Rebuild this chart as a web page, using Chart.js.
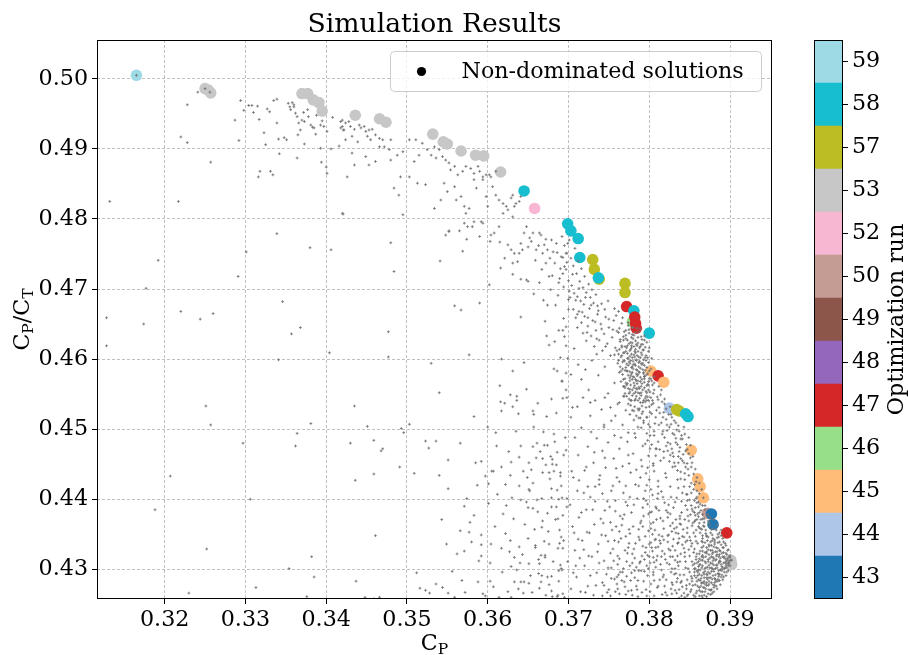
<!DOCTYPE html>
<html>
<head>
<meta charset="utf-8">
<script src="https://cdn.jsdelivr.net/npm/chart.js@4.4.1/dist/chart.umd.min.js"></script>
<style>
html, body { margin: 0; padding: 0; background: #fff; }
#wrap { position: relative; width: 908px; height: 655px; }
#chartSim { position: absolute; left: 0; top: 0; }
#chartRun { position: absolute; left: 800px; top: 0; }
</style>
</head>
<body>
<div id="wrap">
	<canvas id="chartSim" width="908" height="655"></canvas>
	<canvas id="chartRun" width="108" height="655"></canvas>
</div>
<script>
var FONT = '"DejaVu Serif", "Liberation Serif", serif';
var FONT_SIZE = 22.2;

var xTicks = [0.32, 0.33, 0.34, 0.35, 0.36, 0.37, 0.38, 0.39];
var yTicks = [0.43, 0.44, 0.45, 0.46, 0.47, 0.48, 0.49, 0.50];

// optimization runs, bottom to top of the colour bar
var runLabels = [43, 44, 45, 46, 47, 48, 49, 50, 52, 53, 57, 58, 59];
var runColors = ['#1f77b4', '#aec7e8', '#ffbb78', '#98df8a', '#d62728', '#9467bd', '#8c564b',
	'#c49c94', '#f7b6d2', '#c7c7c7', '#bcbd22', '#17becf', '#9edae5'];

// non-dominated solutions
var frontCp = [0.3165, 0.3250, 0.3254, 0.3257, 0.3370, 0.3377, 0.3384, 0.3391, 0.3395, 0.3436,
	0.3466, 0.3474, 0.3532, 0.3545, 0.3550, 0.3567, 0.3585, 0.3595, 0.3616, 0.3645,
	0.3658, 0.3699, 0.3703, 0.3712, 0.3714, 0.3730, 0.3732, 0.3738, 0.3737, 0.3770,
	0.3770, 0.3772, 0.3779, 0.3781, 0.3782, 0.3783, 0.3784, 0.3800, 0.3802, 0.3811,
	0.3818, 0.3825, 0.3834, 0.3837, 0.3845, 0.3848, 0.3852, 0.3860, 0.3863, 0.3867,
	0.3872, 0.3877, 0.3879, 0.3896, 0.3901, 0.3902];
var frontRatio = [0.5005, 0.4986, 0.4984, 0.4980, 0.4979, 0.4979, 0.4970, 0.4966, 0.4954, 0.4948,
	0.4943, 0.4938, 0.4921, 0.4910, 0.4907, 0.4897, 0.4891, 0.4890, 0.4867, 0.4840,
	0.4815, 0.4793, 0.4783, 0.4772, 0.4745, 0.4742, 0.4728, 0.4714, 0.4716, 0.4708,
	0.4695, 0.4675, 0.4653, 0.4669, 0.4660, 0.4651, 0.4644, 0.4637, 0.4583, 0.4576,
	0.4567, 0.4530, 0.4528, 0.4526, 0.4522, 0.4518, 0.4470, 0.4429, 0.4418, 0.4402,
	0.4380, 0.4379, 0.4364, 0.4352, 0.4313, 0.4307];
var frontRun = [59, 53, 53, 53, 53, 53, 53, 53, 53, 53,
	53, 53, 53, 53, 53, 53, 53, 53, 53, 58,
	52, 58, 58, 58, 58, 57, 57, 57, 58, 57,
	57, 47, 46, 58, 47, 47, 47, 58, 45, 47,
	45, 44, 57, 57, 58, 58, 45, 45, 45, 45,
	50, 43, 43, 47, 53, 53];

// all simulations [Cp, Cp/Ct], read region by region
var cloudLeft = [
	[0.3192,0.4741],[0.3177,0.4701],[0.3128,0.4659],[0.3174,0.4650],[0.3128,0.4619],[0.3220,0.4668],[0.3244,0.4657],
	[0.3260,0.4665],[0.3291,0.4718],[0.3301,0.4753],[0.3339,0.4779],[0.3380,0.4759],[0.3406,0.4756],[0.3346,0.4682],
	[0.3357,0.4636],[0.3368,0.4645],[0.3404,0.4609],[0.3341,0.4599],[0.3251,0.4533],[0.3257,0.4506],[0.3381,0.4508],
	[0.3364,0.4494],[0.3362,0.4476],[0.3297,0.4480],[0.3207,0.4433],[0.3188,0.4385],[0.3306,0.4400],[0.3252,0.4329],
	[0.3382,0.4318],[0.3354,0.4301],[0.3385,0.4289],[0.3313,0.4274],[0.3230,0.4266],[0.3376,0.4261]
];
var cloudTopLeft = [
	[0.3228,0.4963],[0.3241,0.4981],[0.3220,0.4917],[0.3228,0.4909],[0.3257,0.4881],[0.3132,0.4825],[0.3217,0.4825],
	[0.3294,0.4969],[0.3287,0.4941],[0.3292,0.4912],[0.3298,0.4955],[0.3304,0.4962],[0.3308,0.4962],[0.3315,0.4961],
	[0.3317,0.4942],[0.3310,0.4952],[0.3323,0.4923],[0.3325,0.4906],[0.3327,0.4957],[0.3330,0.4953],[0.3335,0.4969],
	[0.3339,0.4971],[0.3339,0.4937],[0.3341,0.4914],[0.3342,0.4893],[0.3348,0.4916],[0.3351,0.4913],[0.3353,0.4965],
	[0.3355,0.4960],[0.3356,0.4956],[0.3358,0.4966],[0.3360,0.4963],[0.3362,0.4951],[0.3364,0.4946],[0.3366,0.4937],
	[0.3368,0.4927],[0.3365,0.4920],[0.3373,0.4907],[0.3364,0.4887],[0.3377,0.4956],[0.3370,0.4941],[0.3373,0.4939],
	[0.3381,0.4934],[0.3385,0.4930],[0.3387,0.4921],[0.3393,0.4934],[0.3397,0.4932],[0.3401,0.4925],[0.3393,0.4901],
	[0.3406,0.4900],[0.3408,0.4945],[0.3416,0.4904],[0.3418,0.4939],[0.3420,0.4932],[0.3421,0.4927],[0.3394,0.4881],
	[0.3400,0.4874],[0.3401,0.4865],[0.3316,0.4860],[0.3318,0.4868],[0.3331,0.4868],[0.3334,0.4863],[0.3421,0.4807],
	[0.3360,0.4960],[0.3372,0.4952],[0.3378,0.4946],[0.3388,0.4948],[0.3395,0.4940],[0.3383,0.4931],[0.3165,0.5005],
	[0.3250,0.4986],[0.3256,0.4981]
];
var cloudUpper = [
	[0.3420,0.4941],[0.3424,0.4937],[0.3428,0.4939],[0.3430,0.4932],[0.3418,0.4930],[0.3422,0.4927],[0.3435,0.4928],
	[0.3441,0.4934],[0.3443,0.4930],[0.3447,0.4932],[0.3449,0.4925],[0.3453,0.4927],[0.3457,0.4928],[0.3451,0.4918],
	[0.3455,0.4913],[0.3461,0.4920],[0.3466,0.4915],[0.3470,0.4913],[0.3432,0.4918],[0.3424,0.4913],[0.3439,0.4910],
	[0.3466,0.4903],[0.3472,0.4903],[0.3480,0.4913],[0.3478,0.4899],[0.3432,0.4894],[0.3449,0.4889],[0.3461,0.4882],
	[0.3480,0.4884],[0.3488,0.4891],[0.3495,0.4896],[0.3426,0.4860],[0.3435,0.4877],[0.3453,0.4877],[0.3420,0.4808],
	[0.3492,0.4860],[0.3490,0.4834],[0.3495,0.4806],[0.3484,0.4844],
	[0.3503,0.4913],[0.3511,0.4913],[0.3519,0.4908],[0.3525,0.4899],[0.3530,0.4891],[0.3534,0.4903],[0.3540,0.4899],
	[0.3536,0.4887],[0.3544,0.4889],[0.3548,0.4884],[0.3552,0.4880],[0.3554,0.4870],[0.3559,0.4875],[0.3563,0.4863],
	[0.3569,0.4868],[0.3573,0.4875],[0.3579,0.4872],[0.3583,0.4865],[0.3588,0.4875],[0.3590,0.4868],[0.3594,0.4860],
	[0.3598,0.4863],[0.3509,0.4882],[0.3515,0.4891],[0.3503,0.4860],[0.3513,0.4851],[0.3523,0.4849],[0.3534,0.4815],
	[0.3542,0.4827],[0.3546,0.4851],[0.3550,0.4839],[0.3559,0.4846],[0.3561,0.4827],[0.3567,0.4832],[0.3571,0.4818],
	[0.3573,0.4808],[0.3577,0.4815],[0.3583,0.4856],[0.3586,0.4844],[0.3592,0.4796],[0.3594,0.4794],[0.3581,0.4789],
	[0.3552,0.4782],[0.3571,0.4794],[0.3598,0.4832],[0.3600,0.4818],[0.3604,0.4860],[0.3606,0.4846],[0.3610,0.4834],
	[0.3614,0.4827],[0.3619,0.4822],[0.3623,0.4818],[0.3625,0.4813],[0.3629,0.4830],[0.3631,0.4834],[0.3633,0.4818],
	[0.3635,0.4822],[0.3639,0.4825],[0.3641,0.4832],[0.3619,0.4808],[0.3614,0.4789],[0.3631,0.4803],[0.3648,0.4789],
	[0.3656,0.4780],[0.3664,0.4780],[0.3608,0.4780],[0.3594,0.4856],[0.3602,0.4863],[0.3610,0.4868]
];
var cloudMiddle = [
	[0.3480,0.4766],[0.3484,0.4725],[0.3477,0.4639],[0.3477,0.4603],[0.3435,0.4533],[0.3541,0.4740],[0.3559,0.4676],
	[0.3567,0.4670],[0.3590,0.4680],[0.3577,0.4606],[0.3530,0.4594],[0.3540,0.4552],[0.3583,0.4518],[0.3569,0.4754],
	[0.3548,0.4777],[0.3552,0.4783],[0.3565,0.4783],[0.3574,0.4771],[0.3575,0.4789],[0.3583,0.4796],[0.3590,0.4775],
	[0.3602,0.4706],[0.3604,0.4777],[0.3603,0.4768],[0.3615,0.4767],[0.3616,0.4730],[0.3621,0.4744],[0.3625,0.4763],
	[0.3629,0.4756],[0.3631,0.4737],[0.3633,0.4751],[0.3637,0.4739],[0.3639,0.4751],[0.3641,0.4765],[0.3643,0.4756],
	[0.3645,0.4780],[0.3631,0.4721],[0.3641,0.4714],[0.3648,0.4713],[0.3641,0.4660],[0.3650,0.4760],[0.3654,0.4768],
	[0.3660,0.4756],[0.3666,0.4777],[0.3668,0.4751],[0.3670,0.4763],[0.3672,0.4737],[0.3674,0.4756],[0.3676,0.4718],
	[0.3679,0.4770],[0.3681,0.4753],[0.3683,0.4737],[0.3685,0.4765],[0.3687,0.4691],[0.3689,0.4715],[0.3691,0.4746],
	[0.3693,0.4722],[0.3695,0.4732],[0.3697,0.4751],[0.3699,0.4765],[0.3674,0.4677],[0.3684,0.4677],[0.3671,0.4654],
	[0.3673,0.4633],[0.3676,0.4620],[0.3683,0.4625],[0.3693,0.4641],[0.3697,0.4646],[0.3697,0.4619],[0.3617,0.4600],
	[0.3645,0.4595],[0.3631,0.4583],[0.3682,0.4586],[0.3697,0.4580],[0.3692,0.4569],[0.3615,0.4562],[0.3628,0.4549],
	[0.3636,0.4547],[0.3636,0.4541],[0.3648,0.4557],[0.3616,0.4539],[0.3621,0.4537],[0.3631,0.4532],[0.3617,0.4526],
	[0.3638,0.4522],[0.3656,0.4526],[0.3657,0.4521],[0.3693,0.4544],[0.3697,0.4556],
	[0.3652,0.4773],[0.3659,0.4741],[0.3663,0.4762],[0.3667,0.4728],[0.3672,0.4771],[0.3677,0.4744],[0.3680,0.4719],
	[0.3686,0.4752],[0.3690,0.4729],[0.3694,0.4703],[0.3698,0.4738],[0.3701,0.4697],[0.3705,0.4721],[0.3709,0.4684],
	[0.3713,0.4701],[0.3717,0.4667],[0.3721,0.4688],[0.3724,0.4659],[0.3728,0.4677],[0.3733,0.4653],[0.3737,0.4669],
	[0.3741,0.4643],[0.3745,0.4671],[0.3750,0.4657],[0.3755,0.4642],[0.3759,0.4662],[0.3763,0.4644],[0.3767,0.4659],
	[0.3650,0.4711],[0.3657,0.4693],[0.3664,0.4709],[0.3669,0.4684],[0.3678,0.4699],[0.3688,0.4709],[0.3700,0.4685],
	[0.3711,0.4664],[0.3723,0.4638],[0.3735,0.4629],[0.3746,0.4618],[0.3757,0.4606]
];
var cloudLower = [
	[0.3451,0.4504],[0.3430,0.4480],[0.3459,0.4484],[0.3470,0.4472],[0.3468,0.4469],[0.3459,0.4436],[0.3436,0.4427],
	[0.3491,0.4446],[0.3493,0.4501],[0.3496,0.4495],[0.3503,0.4507],[0.3461,0.4348],[0.3437,0.4283],[0.3448,0.4260],
	[0.3459,0.4258],[0.3466,0.4260],[0.3523,0.4483],[0.3527,0.4473],[0.3536,0.4483],[0.3509,0.4437],[0.3540,0.4434],
	[0.3551,0.4456],[0.3551,0.4415],[0.3566,0.4480],[0.3585,0.4452],[0.3592,0.4454],[0.3587,0.4420],[0.3571,0.4390],
	[0.3543,0.4371],[0.3549,0.4336],[0.3566,0.4355],[0.3577,0.4353],[0.3578,0.4367],[0.3580,0.4339],[0.3592,0.4349],
	[0.3592,0.4335],[0.3592,0.4319],[0.3512,0.4295],[0.3516,0.4273],[0.3523,0.4270],[0.3528,0.4266],[0.3536,0.4279],
	[0.3544,0.4274],[0.3551,0.4266],[0.3559,0.4260],[0.3572,0.4267],[0.3588,0.4282],[0.3594,0.4265],[0.3600,0.4503],
	[0.3610,0.4495],[0.3611,0.4476],[0.3605,0.4440],[0.3607,0.4440],[0.3601,0.4422],[0.3617,0.4446],[0.3629,0.4453],
	[0.3628,0.4434],[0.3639,0.4460],[0.3639,0.4419],[0.3630,0.4402],[0.3644,0.4440],[0.3651,0.4452],[0.3651,0.4414],
	[0.3652,0.4412],[0.3654,0.4442],[0.3656,0.4475],[0.3656,0.4423],[0.3661,0.4480],[0.3665,0.4468],[0.3670,0.4477],
	[0.3674,0.4477],[0.3668,0.4458],[0.3668,0.4438],[0.3672,0.4449],[0.3678,0.4461],[0.3680,0.4457],[0.3680,0.4450],
	[0.3682,0.4440],[0.3676,0.4438],[0.3685,0.4449],[0.3683,0.4482],[0.3682,0.4493],[0.3694,0.4463],[0.3697,0.4470],
	[0.3690,0.4438],[0.3690,0.4433],[0.3679,0.4415],[0.3686,0.4413],[0.3679,0.4402],[0.3688,0.4400],[0.3692,0.4402],
	[0.3698,0.4401],[0.3623,0.4391],[0.3619,0.4379],[0.3641,0.4399],[0.3648,0.4396],[0.3650,0.4388],[0.3656,0.4387],
	[0.3661,0.4399],[0.3662,0.4382],[0.3668,0.4369],[0.3667,0.4360],[0.3674,0.4380],[0.3679,0.4389],[0.3685,0.4389],
	[0.3687,0.4372],[0.3689,0.4356],[0.3691,0.4346],[0.3693,0.4377],[0.3698,0.4389],[0.3689,0.4337],[0.3693,0.4330],
	[0.3617,0.4330],[0.3604,0.4336],[0.3603,0.4309],[0.3628,0.4341],[0.3627,0.4325],[0.3633,0.4317],[0.3629,0.4304],
	[0.3639,0.4332],[0.3643,0.4321],[0.3650,0.4344],[0.3651,0.4308],[0.3659,0.4334],[0.3659,0.4331],[0.3663,0.4314],
	[0.3664,0.4308],[0.3666,0.4320],[0.3671,0.4320],[0.3671,0.4317],[0.3670,0.4340],[0.3676,0.4336],[0.3687,0.4330],
	[0.3690,0.4306],[0.3691,0.4301],[0.3663,0.4294],[0.3667,0.4291],[0.3674,0.4289],[0.3679,0.4290],[0.3688,0.4298],
	[0.3692,0.4299],[0.3633,0.4282],[0.3641,0.4282],[0.3645,0.4282],[0.3651,0.4280],[0.3638,0.4272],[0.3644,0.4266],
	[0.3666,0.4282],[0.3676,0.4278],[0.3679,0.4269],[0.3680,0.4261],[0.3686,0.4261],[0.3614,0.4260],[0.3629,0.4260],
	[0.3693,0.4265],[0.3695,0.4260],
	[0.3556,0.4297],[0.3562,0.4322],[0.3568,0.4284],[0.3574,0.4401],[0.3583,0.4377],[0.3589,0.4312],[0.3597,0.4433],
	[0.3603,0.4283],[0.3609,0.4361],[0.3612,0.4407],[0.3618,0.4296],[0.3622,0.4351],[0.3626,0.4468],[0.3632,0.4372],
	[0.3635,0.4497],[0.3640,0.4309],[0.3646,0.4364],[0.3649,0.4431],[0.3653,0.4291],[0.3658,0.4357],[0.3660,0.4459],
	[0.3664,0.4273],[0.3667,0.4401],[0.3669,0.4496],[0.3672,0.4263],[0.3675,0.4354],[0.3677,0.4429],[0.3681,0.4311],
	[0.3684,0.4371],[0.3686,0.4467],[0.3688,0.4283],[0.3691,0.4419],[0.3694,0.4341],[0.3696,0.4488],[0.3699,0.4311],
	[0.3657,0.4503],[0.3662,0.4537],[0.3673,0.4518],[0.3679,0.4543],[0.3685,0.4523],[0.3597,0.4262],[0.3607,0.4275],
	[0.3625,0.4268],[0.3636,0.4299],[0.3655,0.4267],[0.3687,0.4263],[0.3622,0.4421],[0.3641,0.4476],[0.3601,0.4394],
	[0.3571,0.4326]
];
var cloudFront = [
	[0.3692,0.4775],[0.3695,0.4762],[0.3698,0.4751],[0.3701,0.4770],[0.3703,0.4744],[0.3706,0.4733],[0.3708,0.4758],
	[0.3710,0.4722],[0.3712,0.4740],[0.3714,0.4711],[0.3716,0.4729],[0.3718,0.4702],[0.3720,0.4718],[0.3722,0.4695],
	[0.3725,0.4707],[0.3727,0.4688],[0.3729,0.4699],[0.3731,0.4680],[0.3734,0.4692],[0.3736,0.4676],[0.3693,0.4745],
	[0.3697,0.4728],[0.3700,0.4712],[0.3704,0.4705],[0.3707,0.4694],[0.3711,0.4689],[0.3715,0.4683],[0.3719,0.4678],
	[0.3702,0.4688],[0.3706,0.4671],[0.3709,0.4659],[0.3711,0.4645],[0.3713,0.4668],[0.3716,0.4652],[0.3718,0.4637],
	[0.3720,0.4661],[0.3722,0.4626],[0.3724,0.4647],[0.3726,0.4672],[0.3728,0.4633],[0.3730,0.4655],[0.3732,0.4618],
	[0.3734,0.4641],[0.3736,0.4664],[0.3738,0.4627],[0.3740,0.4650],[0.3742,0.4612],[0.3744,0.4636],[0.3746,0.4660],
	[0.3748,0.4622],[0.3750,0.4645],[0.3752,0.4605],[0.3754,0.4631],[0.3756,0.4655],[0.3758,0.4616],[0.3760,0.4640],
	[0.3762,0.4668],[0.3764,0.4625],[0.3766,0.4651],[0.3768,0.4609],[0.3741,0.4679],[0.3749,0.4683],[0.3757,0.4672],
	[0.3712,0.4592],[0.3716,0.4571],[0.3721,0.4585],[0.3725,0.4556],[0.3729,0.4598],[0.3733,0.4541],[0.3737,0.4577],
	[0.3741,0.4528],[0.3745,0.4589],[0.3749,0.4551],[0.3753,0.4512],[0.3757,0.4566],[0.3761,0.4536],[0.3765,0.4583],
	[0.3769,0.4547],[0.3744,0.4503],[0.3727,0.4519],[0.3762,0.4598],[0.3718,0.4545],[0.3735,0.4607],
	[0.3695,0.4632],[0.3699,0.4601],[0.3703,0.4578],[0.3707,0.4615],[0.3692,0.4568],[0.3698,0.4545],[0.3705,0.4531],
	[0.3690,0.4602],[0.3688,0.4641],[0.3694,0.4658],[0.3700,0.4671],[0.3686,0.4583]
];
var cloudKnee = [
	[0.3762,0.4638],[0.3768,0.4627],[0.3771,0.4641],[0.3775,0.4622],[0.3779,0.4635],[0.3783,0.4626],[0.3787,0.4639],
	[0.3790,0.4621],[0.3794,0.4633],[0.3797,0.4624],[0.3760,0.4612],[0.3765,0.4603],[0.3770,0.4618],[0.3774,0.4601],
	[0.3777,0.4614],[0.3781,0.4606],[0.3785,0.4619],[0.3789,0.4602],[0.3792,0.4613],[0.3796,0.4605],[0.3800,0.4616],
	[0.3764,0.4589],[0.3769,0.4597],[0.3773,0.4583],[0.3776,0.4594],[0.3780,0.4586],[0.3784,0.4598],[0.3788,0.4581],
	[0.3791,0.4592],[0.3795,0.4584],[0.3799,0.4595],[0.3768,0.4571],[0.3772,0.4563],[0.3777,0.4576],[0.3781,0.4566],
	[0.3786,0.4578],[0.3790,0.4561],[0.3794,0.4572],[0.3798,0.4564],[0.3770,0.4551],[0.3775,0.4543],[0.3779,0.4556],
	[0.3784,0.4547],[0.3788,0.4558],[0.3793,0.4541],[0.3797,0.4552],[0.3778,0.4631],[0.3786,0.4611],[0.3782,0.4593],
	[0.3773,0.4608],[0.3791,0.4628],[0.3779,0.4571],[0.3787,0.4589],[0.3793,0.4599],[0.3776,0.4582],[0.3783,0.4614],
	[0.3771,0.4629],[0.3789,0.4568],[0.3796,0.4577],[0.3785,0.4557],[0.3766,0.4619],[0.3774,0.4648],[0.3780,0.4645],
	[0.3777,0.4598],[0.3792,0.4585],
	[0.3771,0.4634],[0.3776,0.4612],[0.3782,0.4603],[0.3779,0.4589],[0.3774,0.4577],[0.3787,0.4595],[0.3790,0.4609],
	[0.3784,0.4621],[0.3769,0.4598],[0.3793,0.4581],[0.3781,0.4574],[0.3777,0.4563],[0.3786,0.4569],[0.3792,0.4556],
	[0.3775,0.4551],[0.3783,0.4543],[0.3789,0.4538],[0.3796,0.4547],[0.3767,0.4586],[0.3773,0.4619],[0.3778,0.4607],
	[0.3785,0.4584],[0.3791,0.4571],[0.3797,0.4562],[0.3801,0.4553],[0.3780,0.4629],[0.3788,0.4616],[0.3795,0.4602],
	[0.3772,0.4593],[0.3766,0.4605],[0.3783,0.4591],[0.3779,0.4581],[0.3776,0.4569],[0.3784,0.4558],[0.3790,0.4548],
	[0.3794,0.4591],[0.3798,0.4579],[0.3770,0.4572],[0.3763,0.4581],[0.3768,0.4561],[0.3777,0.4541],[0.3782,0.4532],
	[0.3787,0.4527],[0.3781,0.4618],[0.3775,0.4637],[0.3786,0.4631],[0.3792,0.4621],[0.3799,0.4611],[0.3803,0.4601],
	[0.3789,0.4643],[0.3774,0.4652],[0.3779,0.4645],[0.3783,0.4638],[0.3771,0.4611],[0.3764,0.4628],[0.3761,0.4594],
	[0.3773,0.4601],[0.3780,0.4597],[0.3787,0.4603],[0.3793,0.4613],[0.3778,0.4588],[0.3785,0.4576],[0.3791,0.4565],
	[0.3796,0.4554],[0.3772,0.4583],[0.3776,0.4557],[0.3782,0.4562],[0.3788,0.4551],[0.3795,0.4539],[0.3800,0.4532],
	[0.3768,0.4547],[0.3774,0.4536],[0.3779,0.4527],[0.3784,0.4519],[0.3792,0.4525],[0.3797,0.4517],[0.3777,0.4624],
	[0.3783,0.4609],[0.3789,0.4587],[0.3794,0.4575],[0.3799,0.4568],[0.3802,0.4586],[0.3806,0.4575],[0.3804,0.4563],
	[0.3769,0.4639],[0.3766,0.4617],[0.3762,0.4607],[0.3770,0.4559],[0.3765,0.4568],[0.3773,0.4565],[0.3781,0.4551],
	[0.3786,0.4541],[0.3791,0.4533],[0.3778,0.4616],[0.3784,0.4599],[0.3790,0.4594],[0.3775,0.4596],[0.3771,0.4588],
	[0.3780,0.4575],[0.3787,0.4560],
	[0.3773,0.4627],[0.3778,0.4619],[0.3782,0.4611],[0.3786,0.4623],[0.3791,0.4606],[0.3795,0.4617],[0.3769,0.4609],
	[0.3774,0.4591],[0.3779,0.4602],[0.3784,0.4585],[0.3788,0.4597],[0.3793,0.4579],[0.3797,0.4588],[0.3802,0.4572],
	[0.3767,0.4578],[0.3771,0.4566],[0.3776,0.4573],[0.3781,0.4559],[0.3785,0.4565],[0.3790,0.4552],[0.3794,0.4559],
	[0.3798,0.4546],[0.3772,0.4547],[0.3777,0.4534],[0.3782,0.4541],[0.3786,0.4529],[0.3791,0.4522],[0.3796,0.4531],
	[0.3801,0.4524],[0.3805,0.4537],[0.3775,0.4642],[0.3781,0.4634],[0.3785,0.4644],[0.3790,0.4632],[0.3768,0.4632],
	[0.3763,0.4614],[0.3767,0.4596],[0.3770,0.4584],[0.3778,0.4579],[0.3783,0.4571],[0.3787,0.4582],[0.3792,0.4594],
	[0.3796,0.4598],[0.3800,0.4583],[0.3803,0.4569],[0.3806,0.4556],[0.3799,0.4556],[0.3794,0.4567],[0.3789,0.4574],
	[0.3784,0.4579],[0.3780,0.4592],[0.3776,0.4604],[0.3772,0.4616],[0.3779,0.4623],[0.3785,0.4605],[0.3789,0.4618],
	[0.3794,0.4627],[0.3798,0.4602],[0.3774,0.4558],[0.3779,0.4548],[0.3783,0.4553],[0.3788,0.4544],[0.3792,0.4538],
	[0.3797,0.4541],[0.3802,0.4545],[0.3781,0.4526],[0.3776,0.4521],[0.3787,0.4516],[0.3793,0.4512],[0.3799,0.4507]
];
var cloudRight = [
	[0.3745,0.4545],[0.3752,0.4531],[0.3758,0.4519],[0.3763,0.4538],[0.3767,0.4506],[0.3771,0.4527],[0.3774,0.4495],
	[0.3778,0.4541],[0.3781,0.4513],[0.3783,0.4488],[0.3786,0.4552],[0.3788,0.4529],[0.3790,0.4502],[0.3792,0.4476],
	[0.3795,0.4544],[0.3797,0.4517],[0.3799,0.4563],[0.3801,0.4491],[0.3803,0.4535],[0.3805,0.4551],[0.3807,0.4508],
	[0.3809,0.4472],[0.3811,0.4542],[0.3813,0.4523],[0.3815,0.4556],[0.3817,0.4497],[0.3819,0.4536],[0.3821,0.4514],
	[0.3823,0.4481],[0.3825,0.4503],[0.3827,0.4521],[0.3829,0.4466],[0.3831,0.4492],[0.3833,0.4509],[0.3835,0.4478],
	[0.3837,0.4497],[0.3839,0.4458],[0.3841,0.4486],[0.3843,0.4503],[0.3845,0.4469],[0.3847,0.4451],[0.3849,0.4488],
	[0.3800,0.4572],[0.3806,0.4566],[0.3794,0.4575],[0.3812,0.4561],[0.3776,0.4553],[0.3769,0.4561],[0.3784,0.4569],
	[0.3798,0.4484],
	[0.3703,0.4517],[0.3708,0.4488],[0.3712,0.4463],[0.3716,0.4502],[0.3720,0.4441],[0.3724,0.4475],[0.3728,0.4496],
	[0.3731,0.4452],[0.3735,0.4487],[0.3738,0.4428],[0.3742,0.4469],[0.3746,0.4445],[0.3749,0.4481],[0.3753,0.4412],
	[0.3756,0.4458],[0.3760,0.4431],[0.3763,0.4472],[0.3767,0.4447],[0.3771,0.4419],[0.3774,0.4463],[0.3777,0.4438],
	[0.3706,0.4431],[0.3719,0.4409],[0.3733,0.4418],[0.3757,0.4491],[0.3765,0.4488],[0.3744,0.4506],[0.3711,0.4532],
	[0.3727,0.4538],[0.3773,0.4482],
	[0.3780,0.4465],[0.3784,0.4442],[0.3787,0.4419],[0.3790,0.4456],[0.3793,0.4401],[0.3796,0.4437],[0.3799,0.4462],
	[0.3802,0.4414],[0.3805,0.4448],[0.3808,0.4389],[0.3811,0.4426],[0.3814,0.4455],[0.3817,0.4403],[0.3820,0.4437],
	[0.3823,0.4381],[0.3826,0.4418],[0.3829,0.4446],[0.3832,0.4396],[0.3835,0.4428],[0.3838,0.4372],[0.3841,0.4409],
	[0.3844,0.4437],[0.3847,0.4385],[0.3850,0.4418],[0.3852,0.4446],[0.3854,0.4366],[0.3856,0.4398],[0.3858,0.4425],
	[0.3860,0.4379],[0.3862,0.4408],[0.3864,0.4358],[0.3866,0.4391],[0.3868,0.4372],[0.3870,0.4351],[0.3851,0.4459],
	[0.3855,0.4436],[0.3843,0.4452],[0.3859,0.4412],[0.3836,0.4461],[0.3863,0.4393],[0.3867,0.4362],[0.3818,0.4468],
	[0.3828,0.4472],[0.3808,0.4472],[0.3795,0.4479],
	[0.3799,0.4541],[0.3803,0.4522],[0.3806,0.4497],[0.3801,0.4472],[0.3805,0.4451],[0.3800,0.4428],[0.3804,0.4406],
	[0.3809,0.4387],[0.3802,0.4365],[0.3807,0.4342],[0.3800,0.4318],[0.3805,0.4296],[0.3810,0.4274],[0.3798,0.4445],
	[0.3808,0.4462],[0.3796,0.4398],[0.3811,0.4418],[0.3803,0.4382],[0.3799,0.4355],[0.3806,0.4310],
	[0.3812,0.4531],[0.3818,0.4524],[0.3808,0.4517],[0.3815,0.4509],[0.3822,0.4498],[0.3827,0.4507],[0.3819,0.4488],
	[0.3826,0.4479],[0.3833,0.4487],[0.3838,0.4474],[0.3842,0.4464],[0.3836,0.4452],[0.3830,0.4461],[0.3823,0.4469],
	[0.3811,0.4482],[0.3806,0.4491],[0.3801,0.4503],[0.3810,0.4546],[0.3804,0.4541],[0.3816,0.4539],[0.3821,0.4529],
	[0.3828,0.4517],[0.3834,0.4499],[0.3840,0.4491],[0.3846,0.4478],[0.3849,0.4465],[0.3853,0.4452],[0.3848,0.4443],
	[0.3844,0.4428],[0.3839,0.4439],[0.3832,0.4447],[0.3825,0.4454],[0.3818,0.4459],[0.3813,0.4471],[0.3803,0.4478],
	[0.3797,0.4494],[0.3793,0.4509],[0.3789,0.4516],[0.3786,0.4503],[0.3782,0.4494],[0.3856,0.4421],[0.3859,0.4403],
	[0.3852,0.4409],[0.3847,0.4398],[0.3861,0.4389],[0.3857,0.4377],[0.3864,0.4371],[0.3868,0.4361],[0.3871,0.4347],
	[0.3866,0.4339],
	[0.3814,0.4549],[0.3819,0.4543],[0.3824,0.4521],[0.3826,0.4532],[0.3831,0.4512],[0.3836,0.4505],[0.3839,0.4486],
	[0.3844,0.4493],[0.3847,0.4471],[0.3851,0.4477],[0.3854,0.4461],[0.3857,0.4443],[0.3859,0.4431],[0.3862,0.4423],
	[0.3865,0.4414],[0.3867,0.4402],[0.3869,0.4391],[0.3872,0.4378],[0.3874,0.4366],[0.3876,0.4372],[0.3817,0.4517],
	[0.3822,0.4506],[0.3829,0.4494],[0.3833,0.4481],[0.3837,0.4468],[0.3841,0.4455],[0.3845,0.4446],[0.3849,0.4434],
	[0.3852,0.4423],[0.3855,0.4414],[0.3858,0.4401],[0.3861,0.4396],[0.3864,0.4384],[0.3866,0.4378],[0.3809,0.4527],
	[0.3812,0.4506],[0.3816,0.4493],[0.3821,0.4476],[0.3826,0.4463],[0.3831,0.4452],[0.3835,0.4441],[0.3839,0.4429],
	[0.3843,0.4418],[0.3847,0.4407],[0.3850,0.4399],[0.3853,0.4386],[0.3856,0.4381],[0.3859,0.4371],[0.3862,0.4366],
	[0.3865,0.4357]
];
var cloudBottom = [
	[0.3702,0.4392],[0.3705,0.4361],[0.3708,0.4327],[0.3710,0.4289],[0.3713,0.4374],[0.3715,0.4268],[0.3717,0.4341],
	[0.3720,0.4305],[0.3722,0.4385],[0.3724,0.4276],[0.3726,0.4352],[0.3729,0.4318],[0.3731,0.4263],[0.3733,0.4397],
	[0.3735,0.4295],[0.3737,0.4336],[0.3740,0.4372],[0.3742,0.4281],[0.3744,0.4312],[0.3746,0.4348],[0.3748,0.4267],
	[0.3751,0.4389],[0.3753,0.4302],[0.3755,0.4329],[0.3757,0.4286],[0.3759,0.4361],[0.3761,0.4272],[0.3763,0.4315],
	[0.3765,0.4344],[0.3767,0.4296],[0.3769,0.4378],[0.3771,0.4264],[0.3773,0.4323],[0.3775,0.4357],[0.3777,0.4284],
	[0.3779,0.4309],[0.3781,0.4392],[0.3783,0.4337],[0.3785,0.4271],[0.3787,0.4298],[0.3789,0.4366],[0.3791,0.4319],
	[0.3793,0.4283],[0.3795,0.4347],[0.3797,0.4305],[0.3799,0.4379],[0.3801,0.4268],[0.3803,0.4331],[0.3805,0.4292],
	[0.3807,0.4356],[0.3809,0.4313],[0.3811,0.4276],[0.3813,0.4341],[0.3815,0.4299],[0.3817,0.4369],[0.3819,0.4322],
	[0.3821,0.4285],[0.3823,0.4348],[0.3825,0.4307],[0.3827,0.4272],[0.3829,0.4333],[0.3831,0.4358],[0.3833,0.4294],
	[0.3835,0.4319],[0.3837,0.4344],[0.3839,0.4281],[0.3776,0.4403],[0.3758,0.4398],[0.3792,0.4388],[0.3812,0.4384],
	[0.3826,0.4379],[0.3742,0.4408],[0.3797,0.4262],[0.3816,0.4264],[0.3834,0.4266],[0.3752,0.4262],[0.3786,0.4261],
	[0.3724,0.4418],[0.3711,0.4412],[0.3738,0.4421],
	[0.3760,0.4279],[0.3766,0.4284],[0.3772,0.4290],[0.3778,0.4295],[0.3784,0.4303],[0.3788,0.4309],[0.3794,0.4314],
	[0.3798,0.4320],[0.3804,0.4326],[0.3808,0.4331],[0.3814,0.4337],[0.3818,0.4342],[0.3824,0.4349],[0.3828,0.4354],
	[0.3834,0.4360],[0.3838,0.4365],[0.3844,0.4371],[0.3848,0.4376],[0.3762,0.4292],[0.3776,0.4305],[0.3790,0.4298],
	[0.3802,0.4338],[0.3816,0.4326],[0.3830,0.4343],[0.3842,0.4357],[0.3770,0.4275],[0.3782,0.4288],[0.3796,0.4331],
	[0.3810,0.4319],[0.3836,0.4351],
	[0.3703,0.4272],[0.3709,0.4305],[0.3712,0.4343],[0.3716,0.4381],[0.3721,0.4267],[0.3725,0.4319],[0.3727,0.4291],
	[0.3732,0.4364],[0.3734,0.4277],[0.3738,0.4309],[0.3741,0.4349],[0.3745,0.4384],[0.3747,0.4293],[0.3750,0.4271],
	[0.3754,0.4356],[0.3756,0.4312],[0.3758,0.4268],[0.3762,0.4339],[0.3764,0.4376],[0.3768,0.4301],[0.3770,0.4327],
	[0.3774,0.4269],[0.3776,0.4351],[0.3778,0.4381],[0.3782,0.4316],[0.3784,0.4276],[0.3788,0.4342],[0.3790,0.4369],
	[0.3794,0.4297],[0.3796,0.4271],[0.3800,0.4336],[0.3802,0.4358],[0.3806,0.4284],[0.3808,0.4303],[0.3812,0.4349],
	[0.3814,0.4373],[0.3818,0.4292],[0.3820,0.4267],[0.3824,0.4329],[0.3826,0.4362],[0.3829,0.4278],[0.3832,0.4313],
	[0.3835,0.4337],[0.3838,0.4376],[0.3742,0.4262],[0.3761,0.4307],[0.3779,0.4263],[0.3798,0.4291],[0.3815,0.4318],
	[0.3833,0.4352],[0.3707,0.4352],[0.3719,0.4328],[0.3730,0.4385],[0.3743,0.4366],[0.3752,0.4323],[0.3766,0.4363],
	[0.3773,0.4391],[0.3787,0.4357],[0.3801,0.4381],[0.3819,0.4395],[0.3706,0.4295],[0.3714,0.4316],[0.3723,0.4353],
	[0.3736,0.4325],[0.3749,0.4340],[0.3760,0.4289],[0.3771,0.4347],[0.3781,0.4329],[0.3792,0.4361],[0.3804,0.4350],
	[0.3813,0.4285],[0.3823,0.4374],[0.3830,0.4388],[0.3840,0.4397],[0.3846,0.4407],[0.3852,0.4391],[0.3827,0.4403],
	[0.3810,0.4401],[0.3795,0.4412],[0.3783,0.4421],[0.3768,0.4409],[0.3755,0.4419],[0.3739,0.4434],[0.3722,0.4446],
	[0.3713,0.4427],[0.3704,0.4440],[0.3727,0.4403],[0.3748,0.4397],[0.3763,0.4425],[0.3789,0.4431],[0.3797,0.4420],
	[0.3815,0.4411],[0.3836,0.4416],[0.3821,0.4431],[0.3806,0.4440],[0.3791,0.4447],[0.3775,0.4451],[0.3759,0.4444],
	[0.3745,0.4459],[0.3732,0.4467],
	[0.3744,0.4277],[0.3749,0.4302],[0.3753,0.4287],[0.3757,0.4341],[0.3761,0.4319],[0.3764,0.4296],[0.3769,0.4282],
	[0.3772,0.4311],[0.3775,0.4337],[0.3779,0.4322],[0.3782,0.4298],[0.3786,0.4284],[0.3789,0.4311],[0.3792,0.4333],
	[0.3795,0.4324],[0.3799,0.4301],[0.3802,0.4279],[0.3805,0.4317],[0.3808,0.4343],[0.3811,0.4332],[0.3814,0.4307],
	[0.3817,0.4289],[0.3820,0.4314],[0.3823,0.4339],[0.3826,0.4327],[0.3829,0.4318],[0.3832,0.4301],[0.3835,0.4287],
	[0.3838,0.4311],[0.3841,0.4335],[0.3844,0.4324],[0.3847,0.4359],[0.3850,0.4346],[0.3853,0.4337],[0.3856,0.4329],
	[0.3859,0.4322],[0.3862,0.4315],[0.3865,0.4302],[0.3868,0.4293],[0.3871,0.4277],[0.3763,0.4265],[0.3778,0.4270],
	[0.3791,0.4267],[0.3806,0.4262],[0.3819,0.4276],[0.3828,0.4265],[0.3837,0.4259],[0.3847,0.4262],[0.3857,0.4261],
	[0.3866,0.4259],[0.3752,0.4367],[0.3767,0.4372],[0.3780,0.4361],[0.3793,0.4376],[0.3805,0.4367],[0.3818,0.4358],
	[0.3829,0.4366],[0.3840,0.4381],[0.3849,0.4369],[0.3857,0.4388],[0.3758,0.4383],[0.3771,0.4396],[0.3785,0.4401],
	[0.3798,0.4393],[0.3811,0.4408],[0.3824,0.4392],[0.3834,0.4402],[0.3845,0.4391],[0.3851,0.4378],[0.3839,0.4364],
	[0.3787,0.4346],[0.3774,0.4331],[0.3763,0.4354],[0.3801,0.4309],[0.3816,0.4347],[0.3827,0.4296],[0.3843,0.4346],
	[0.3833,0.4371],[0.3821,0.4384],[0.3809,0.4371]
];
var cloudCorner = [
	[0.3848,0.4264],[0.3852,0.4271],[0.3855,0.4263],[0.3857,0.4278],[0.3859,0.4269],[0.3861,0.4285],[0.3862,0.4262],
	[0.3864,0.4276],[0.3865,0.4291],[0.3866,0.4268],[0.3868,0.4283],[0.3869,0.4297],[0.3870,0.4272],[0.3871,0.4288],
	[0.3872,0.4303],[0.3873,0.4265],[0.3874,0.4279],[0.3875,0.4294],[0.3876,0.4309],[0.3877,0.4271],[0.3878,0.4286],
	[0.3879,0.4300],[0.3880,0.4315],[0.3881,0.4277],[0.3882,0.4292],[0.3883,0.4306],[0.3884,0.4321],[0.3885,0.4283],
	[0.3886,0.4298],[0.3887,0.4312],[0.3888,0.4326],[0.3889,0.4289],[0.3890,0.4304],[0.3891,0.4318],[0.3892,0.4331],
	[0.3893,0.4296],[0.3894,0.4310],[0.3895,0.4323],[0.3896,0.4302],[0.3897,0.4315],[0.3898,0.4328],[0.3899,0.4309],
	[0.3900,0.4320],[0.3901,0.4313],[0.3867,0.4317],[0.3871,0.4325],[0.3874,0.4333],[0.3878,0.4341],[0.3881,0.4336],
	[0.3884,0.4345],[0.3887,0.4339],[0.3889,0.4348],[0.3876,0.4352],[0.3880,0.4358],[0.3873,0.4346],[0.3869,0.4338],
	[0.3865,0.4331],[0.3862,0.4322],[0.3859,0.4309],[0.3856,0.4296],[0.3853,0.4287],[0.3850,0.4279],[0.3846,0.4272],
	[0.3843,0.4266],[0.3885,0.4330],[0.3883,0.4314],[0.3879,0.4324],[0.3877,0.4318],[0.3873,0.4311],[0.3870,0.4302],
	[0.3867,0.4295],[0.3864,0.4287],[0.3861,0.4299],[0.3858,0.4288],[0.3863,0.4307],[0.3866,0.4305],[0.3872,0.4292],
	[0.3875,0.4302],[0.3878,0.4308],[0.3882,0.4301],[0.3886,0.4309],[0.3888,0.4316],[0.3890,0.4323],[0.3893,0.4318],
	[0.3896,0.4312],[0.3892,0.4309],[0.3889,0.4300],[0.3885,0.4294],[0.3881,0.4287],[0.3877,0.4281],[0.3874,0.4288],
	[0.3871,0.4281],[0.3868,0.4274],[0.3865,0.4281],[0.3862,0.4274],[0.3858,0.4266],[0.3854,0.4277],[0.3860,0.4291],
	[0.3876,0.4264],[0.3880,0.4268],[0.3884,0.4272],[0.3888,0.4278],[0.3891,0.4285],[0.3895,0.4291],[0.3898,0.4298],
	[0.3868,0.4263],[0.3858,0.4318],[0.3854,0.4306],[0.3850,0.4296],[0.3847,0.4285],
	[0.3822,0.4263],[0.3828,0.4281],[0.3832,0.4270],[0.3838,0.4292],[0.3841,0.4275],[0.3845,0.4302],[0.3840,0.4262],
	[0.3836,0.4305],[0.3844,0.4318],[0.3849,0.4328],[0.3851,0.4341],[0.3855,0.4352],[0.3858,0.4340],[0.3862,0.4359],
	[0.3866,0.4348],[0.3853,0.4362],[0.3845,0.4339],[0.3847,0.4352],[0.3857,0.4370],[0.3861,0.4375],
	[0.3869,0.4268],[0.3873,0.4277],[0.3881,0.4281],[0.3886,0.4293],[0.3888,0.4299],[0.3895,0.4305],[0.3899,0.4318],
	[0.3865,0.4280],[0.3872,0.4286],[0.3877,0.4297],[0.3880,0.4306],[0.3887,0.4311],[0.3892,0.4324],[0.3897,0.4327],
	[0.3862,0.4293],[0.3869,0.4301],[0.3874,0.4306],[0.3879,0.4317],[0.3884,0.4325],[0.3889,0.4335],[0.3894,0.4337],
	[0.3861,0.4304],[0.3864,0.4313],[0.3871,0.4323],[0.3876,0.4327],[0.3881,0.4339],[0.3886,0.4346],[0.3891,0.4344],
	[0.3858,0.4314],[0.3863,0.4326],[0.3867,0.4333],[0.3872,0.4341],[0.3878,0.4349],[0.3883,0.4356],[0.3855,0.4324],
	[0.3860,0.4337],[0.3866,0.4344],[0.3870,0.4356],[0.3875,0.4362],[0.3852,0.4333],[0.3857,0.4347],[0.3863,0.4352],
	[0.3868,0.4367],[0.3873,0.4369],[0.3850,0.4319],[0.3853,0.4311],[0.3856,0.4301],[0.3859,0.4283],[0.3862,0.4270],
	[0.3865,0.4262],[0.3871,0.4261],[0.3878,0.4266],[0.3883,0.4276],[0.3887,0.4284],[0.3892,0.4289],[0.3896,0.4296],
	[0.3900,0.4305],[0.3902,0.4313],[0.3898,0.4309],[0.3893,0.4301],[0.3890,0.4292],[0.3885,0.4286],[0.3880,0.4274],
	[0.3876,0.4270],[0.3867,0.4274],[0.3863,0.4284],[0.3860,0.4296],[0.3856,0.4308],[0.3852,0.4290],[0.3848,0.4301],
	[0.3845,0.4311],[0.3843,0.4292],[0.3840,0.4283],[0.3846,0.4277],[0.3851,0.4268],[0.3855,0.4258],[0.3844,0.4260],
	[0.3837,0.4271],[0.3834,0.4282],[0.3831,0.4293],[0.3828,0.4301],[0.3835,0.4310],[0.3839,0.4322],[0.3843,0.4330],
	[0.3847,0.4341],[0.3841,0.4347],[0.3836,0.4338],[0.3832,0.4327],[0.3826,0.4318],[0.3822,0.4309],[0.3874,0.4283],
	[0.3879,0.4291],[0.3884,0.4302],[0.3889,0.4307],[0.3894,0.4315],[0.3877,0.4302],[0.3882,0.4313],[0.3887,0.4321],
	[0.3873,0.4314],[0.3878,0.4322],[0.3883,0.4331],[0.3869,0.4311],[0.3866,0.4320],[0.3874,0.4335],[0.3879,0.4344],
	[0.3887,0.4352],[0.3884,0.4363],[0.3877,0.4357],[0.3871,0.4348],[0.3865,0.4340],[0.3861,0.4361],[0.3858,0.4356],
	[0.3866,0.4372],[0.3862,0.4381],[0.3856,0.4368],[0.3869,0.4385],[0.3874,0.4376],[0.3880,0.4371],[0.3854,0.4383],
	[0.3859,0.4395],
	[0.3867,0.4281],[0.3871,0.4293],[0.3876,0.4288],[0.3880,0.4297],[0.3884,0.4306],[0.3888,0.4311],[0.3892,0.4317],
	[0.3896,0.4321],[0.3900,0.4317],[0.3870,0.4309],[0.3875,0.4316],[0.3879,0.4312],[0.3883,0.4319],[0.3887,0.4327],
	[0.3891,0.4331],[0.3895,0.4334],[0.3866,0.4326],[0.3871,0.4331],[0.3876,0.4339],[0.3880,0.4332],[0.3885,0.4338],
	[0.3863,0.4299],[0.3868,0.4288],[0.3873,0.4296],[0.3878,0.4301],[0.3882,0.4285],[0.3886,0.4290],[0.3890,0.4298],
	[0.3894,0.4302],[0.3898,0.4306],[0.3860,0.4276],[0.3864,0.4268],[0.3869,0.4279],[0.3874,0.4271],[0.3879,0.4278],
	[0.3883,0.4283],[0.3887,0.4293],[0.3891,0.4302],[0.3895,0.4308],[0.3899,0.4312],[0.3857,0.4301],[0.3861,0.4311],
	[0.3865,0.4318],[0.3869,0.4324],[0.3873,0.4328],[0.3877,0.4334],[0.3881,0.4342],[0.3885,0.4350],[0.3889,0.4356],
	[0.3892,0.4339],[0.3853,0.4283],[0.3856,0.4291],[0.3859,0.4298],[0.3862,0.4306],[0.3866,0.4313],[0.3870,0.4318],
	[0.3874,0.4321],[0.3878,0.4327],[0.3882,0.4325],[0.3886,0.4318]
];

var cloudPoints = [].concat(cloudLeft, cloudTopLeft, cloudUpper, cloudMiddle, cloudLower,
	cloudFront, cloudKnee, cloudRight, cloudBottom, cloudCorner);

function runColor(run) {
	return runColors[runLabels.indexOf(run)];
}

function drawSubText(ctx, parts, x, y, size) {
	var widths = parts.map(function(p) {
		ctx.font = (p[1] ? size * 0.7 : size) + 'px ' + FONT;
		return ctx.measureText(p[0]).width;
	});
	var total = widths.reduce(function(a, b) { return a + b; }, 0);
	var cx = x - total / 2;
	ctx.textAlign = 'left';
	ctx.textBaseline = 'alphabetic';
	parts.forEach(function(p, i) {
		ctx.font = (p[1] ? size * 0.7 : size) + 'px ' + FONT;
		ctx.fillText(p[0], cx, p[1] ? y + size * 0.2 : y);
		cx += widths[i];
	});
}

var decorPlugin = {
	id: 'decor',
	afterDraw: function(chart) {
		var ctx = chart.ctx;
		var a = chart.chartArea;
		ctx.save();
		ctx.strokeStyle = '#000';
		ctx.lineWidth = 1;
		ctx.strokeRect(Math.round(a.left) + 0.5, Math.round(a.top) + 0.5,
			Math.round(a.right - a.left) - 1, Math.round(a.bottom - a.top) - 1);

		ctx.fillStyle = '#000';
		ctx.font = (FONT_SIZE * 1.2) + 'px ' + FONT;
		ctx.textAlign = 'center';
		ctx.textBaseline = 'alphabetic';
		ctx.fillText('Simulation Results', (a.left + a.right) / 2, a.top - 8);

		drawSubText(ctx, [['C', false], ['P', true]], (a.left + a.right) / 2, 650, FONT_SIZE);

		ctx.save();
		ctx.translate(29, (a.top + a.bottom) / 2);
		ctx.rotate(-Math.PI / 2);
		drawSubText(ctx, [['C', false], ['P', true], ['/C', false], ['T', true]], 0, 0, FONT_SIZE);
		ctx.restore();

		// legend box, upper right
		var lw = 371, lh = 40;
		var lx = Math.round(a.right - 11 - lw) + 0.5, ly = Math.round(a.top + 11) + 0.5;
		ctx.beginPath();
		ctx.roundRect(lx, ly, lw, lh, 4);
		ctx.fillStyle = 'rgba(255,255,255,0.8)';
		ctx.fill();
		ctx.strokeStyle = '#cccccc';
		ctx.stroke();
		ctx.beginPath();
		ctx.arc(lx + 31, ly + lh / 2, 4.6, 0, Math.PI * 2);
		ctx.fillStyle = '#000';
		ctx.fill();
		ctx.font = FONT_SIZE + 'px ' + FONT;
		ctx.textAlign = 'left';
		ctx.textBaseline = 'middle';
		ctx.fillText('Non-dominated solutions', lx + 71, ly + lh / 2 + 1);
		ctx.restore();
	}
};

var barFramePlugin = {
	id: 'barFrame',
	afterDraw: function(chart) {
		var ctx = chart.ctx;
		var a = chart.chartArea;
		ctx.save();
		ctx.strokeStyle = '#000';
		ctx.lineWidth = 1;
		ctx.strokeRect(Math.round(a.left) + 0.5, Math.round(a.top) + 0.5,
			Math.round(a.right - a.left) - 1, Math.round(a.bottom - a.top) - 1);
		ctx.translate(97, (a.top + a.bottom) / 2);
		ctx.rotate(-Math.PI / 2);
		ctx.fillStyle = '#000';
		ctx.font = FONT_SIZE + 'px ' + FONT;
		ctx.textAlign = 'center';
		ctx.textBaseline = 'middle';
		ctx.fillText('Optimization run', 0, 0);
		ctx.restore();
	}
};

var tickFont = { family: FONT, size: FONT_SIZE };

var simChart = new Chart(document.getElementById('chartSim'), {
	type: 'scatter',
	data: {
		datasets: [
			{
				label: 'Simulations',
				data: cloudPoints.map(function(p) { return { x: p[0], y: p[1] }; }),
				pointStyle: 'cross',
				pointRadius: 1.4,
				borderWidth: 1,
				borderColor: 'rgba(115,115,115,0.85)',
				order: 1
			},
			{
				label: 'Non-dominated solutions',
				data: frontCp.map(function(cp, i) { return { x: cp, y: frontRatio[i] }; }),
				pointRadius: 5.8,
				borderWidth: 0,
				backgroundColor: frontRun.map(runColor),
				order: 2
			}
		]
	},
	options: {
		responsive: false,
		animation: false,
		devicePixelRatio: 1,
		layout: { padding: { left: 0, right: 136, top: 40, bottom: 0 } },
		plugins: {
			legend: { display: false },
			title: { display: false },
			tooltip: { enabled: false }
		},
		scales: {
			x: {
				type: 'linear',
				min: 0.31162,
				max: 0.39520,
				afterBuildTicks: function(s) { s.ticks = xTicks.map(function(v) { return { value: v }; }); },
				afterFit: function(s) { s.height = 56; },
				ticks: {
					callback: function(v) { return v.toFixed(2); },
					font: tickFont, color: '#000', padding: 3, maxRotation: 0, autoSkip: false
				},
				grid: { color: '#b0b0b0', lineWidth: 0.8, tickLength: 5, tickColor: '#000', tickWidth: 1, tickBorderDash: [] },
				border: { display: false, dash: [3, 2] }
			},
			y: {
				type: 'linear',
				min: 0.42576,
				max: 0.50554,
				afterBuildTicks: function(s) { s.ticks = yTicks.map(function(v) { return { value: v }; }); },
				afterFit: function(s) { s.width = 97; },
				ticks: {
					callback: function(v) { return v.toFixed(2); },
					font: tickFont, color: '#000', padding: 4, autoSkip: false
				},
				grid: { color: '#b0b0b0', lineWidth: 0.8, tickLength: 5, tickColor: '#000', tickWidth: 1, tickBorderDash: [] },
				border: { display: false, dash: [3, 2] }
			}
		}
	},
	plugins: [decorPlugin]
});

var runChart = new Chart(document.getElementById('chartRun'), {
	type: 'bar',
	data: {
		labels: ['run'],
		datasets: runLabels.map(function(r, i) {
			return { label: String(r), data: [1], backgroundColor: runColors[i], borderWidth: 0,
				barPercentage: 1, categoryPercentage: 1 };
		})
	},
	options: {
		responsive: false,
		animation: false,
		devicePixelRatio: 1,
		layout: { padding: { left: 14, right: 25, top: 40, bottom: 56 } },
		plugins: { legend: { display: false }, tooltip: { enabled: false } },
		scales: {
			x: { stacked: true, display: false },
			y: {
				stacked: true,
				position: 'right',
				min: 0,
				max: runLabels.length,
				afterBuildTicks: function(s) { s.ticks = runLabels.map(function(r, i) { return { value: i + 0.5 }; }); },
				afterFit: function(s) { s.width = 40; },
				ticks: {
					callback: function(v, i) { return String(runLabels[i]); },
					font: tickFont, color: '#000', padding: 4, autoSkip: false
				},
				grid: { drawOnChartArea: false, drawTicks: true, tickLength: 5, tickColor: '#000' },
				border: { display: false }
			}
		}
	},
	plugins: [barFramePlugin]
});
</script>
</body>
</html>
